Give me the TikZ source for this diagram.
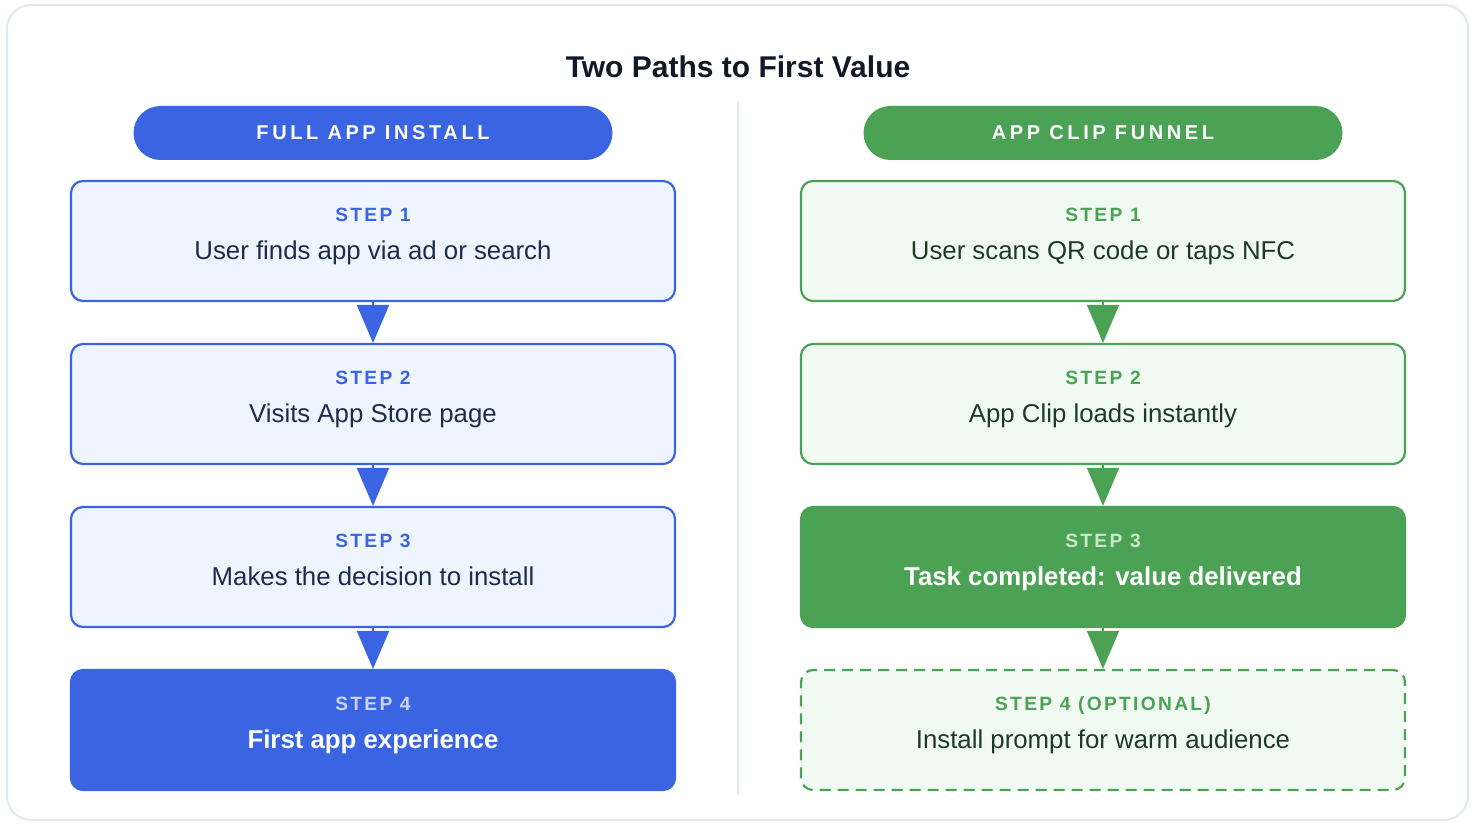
\documentclass[tikz,border=0pt]{standalone}
\usepackage{fontspec}
\setmainfont{Liberation Sans}
\usetikzlibrary{arrows.meta,positioning}
\definecolor{framegray}{HTML}{E2E8F0}
\definecolor{titleink}{HTML}{111827}
\definecolor{flowblue}{HTML}{3B64E3}
\definecolor{flowbluebg}{HTML}{EFF5FE}
\definecolor{flowblueink}{HTML}{1E2B4D}
\definecolor{flowbluetag}{HTML}{C7D5F8}
\definecolor{clipgreen}{HTML}{4CA254}
\definecolor{clipgreenbg}{HTML}{F0FAF2}
\definecolor{clipgreenink}{HTML}{1F3A24}
\definecolor{clipgreentag}{HTML}{C6EACA}
\newcommand\titletext{\fontsize{15}{17}\selectfont\bfseries}
\newcommand\pilltext{\fontsize{10}{12}\selectfont\bfseries\addfontfeature{LetterSpace=18}}
\newcommand\tagtext{\fontsize{9.6}{11}\selectfont\bfseries\addfontfeature{LetterSpace=12}}
\newcommand\bodytext{\fontsize{12.9}{14}\selectfont}

\begin{document}
\begin{tikzpicture}[x=0.5pt,y=-0.5pt]
  \tikzstyle{frame}=[draw=framegray, line width=1pt, rounded corners=12pt]
  \tikzstyle{pill}=[rounded corners=13.5pt, minimum width=239.5pt, minimum height=27pt, text=white, text depth=0pt, font=\pilltext]
  \tikzstyle{stepbox}=[rounded corners=6pt, line width=1.1pt, minimum width=302pt, minimum height=60pt]
  \tikzstyle{tag}=[font=\tagtext, inner sep=0pt, anchor=base]
  \tikzstyle{body}=[font=\bodytext, inner sep=0pt, anchor=base]
  \tikzstyle{link}=[line width=1pt, -{Triangle[width=16pt,length=19pt]}]

  \path[use as bounding box] (0,0) rectangle (1474,828);
  \draw[frame] (7,5) rectangle (1468,820);

  \node[font=\titletext, text=titleink] (title) at (738,67) {Two Paths to First Value};
  \draw[framegray, line width=1pt] (738,102) -- (738,795);

  % Left column: full app install.
  \node[pill, fill=flowblue] (fullhead) at (373,133) {FULL APP INSTALL};
  \foreach \n/\y/\txt in {1/241/User finds app via ad or search,2/404/Visits App Store page,3/567/Makes the decision to install} {
    \node[stepbox, draw=flowblue, fill=flowbluebg] (full\n) at (373,\y) {};
    \node[tag, text=flowblue] (full\n-tag) at ([yshift=-20.8pt]full\n.north) {STEP \n};
    \node[body, text=flowblueink] (full\n-body) at ([yshift=-40pt]full\n.north) {\txt};
  }
  \node[stepbox, draw=flowblue, fill=flowblue] (full4) at (373,730) {};
  \node[tag, text=flowbluetag] (full4-tag) at ([yshift=-20.8pt]full4.north) {STEP 4};
  \node[body, text=white, font=\bodytext\bfseries] (full4-body) at ([yshift=-40pt]full4.north) {First app experience};
  \foreach \a/\b in {1/2,2/3,3/4}
    \draw[link, draw=flowblue, fill=flowblue] (full\a.south) -- (full\b.north);

  % Right column: app clip funnel.
  \node[pill, fill=clipgreen] (cliphead) at (1103,133) {APP CLIP FUNNEL};
  \foreach \n/\y/\txt in {1/241/User scans QR code or taps NFC,2/404/App Clip loads instantly} {
    \node[stepbox, draw=clipgreen, fill=clipgreenbg] (clip\n) at (1103,\y) {};
    \node[tag, text=clipgreen] (clip\n-tag) at ([yshift=-20.8pt]clip\n.north) {STEP \n};
    \node[body, text=clipgreenink] (clip\n-body) at ([yshift=-40pt]clip\n.north) {\txt};
  }
  \node[stepbox, draw=clipgreen, fill=clipgreen] (clip3) at (1103,567) {};
  \node[tag, text=clipgreentag] (clip3-tag) at ([yshift=-20.8pt]clip3.north) {STEP 3};
  \node[body, text=white, font=\bodytext\bfseries] (clip3-body) at ([yshift=-40pt]clip3.north) {Task completed: value delivered};
  \node[stepbox, draw=clipgreen, fill=clipgreenbg, dash pattern=on 5.5pt off 3.5pt] (clip4) at (1103,730) {};
  \node[tag, text=clipgreen] (clip4-tag) at ([yshift=-20.8pt]clip4.north) {STEP 4 (OPTIONAL)};
  \node[body, text=clipgreenink] (clip4-body) at ([yshift=-40pt]clip4.north) {Install prompt for warm audience};
  \foreach \a/\b in {1/2,2/3,3/4}
    \draw[link, draw=clipgreen, fill=clipgreen] (clip\a.south) -- (clip\b.north);
\end{tikzpicture}
\end{document}
